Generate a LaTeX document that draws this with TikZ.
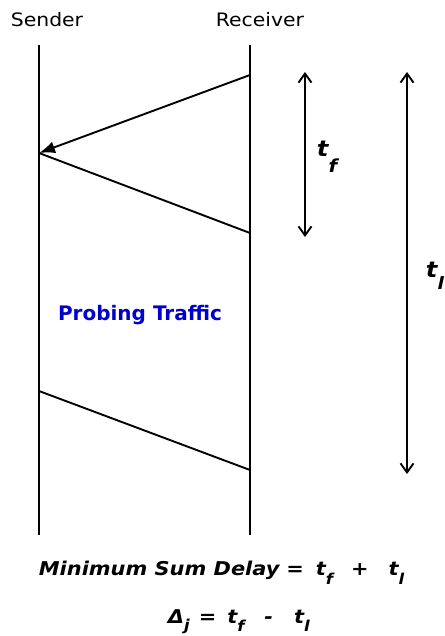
\documentclass[tikz,border=0pt]{standalone}
\usepackage{fontspec}
\setmainfont{DejaVu Sans}
\newfontfamily\widefont[FakeStretch=1.1]{DejaVu Sans}
\usetikzlibrary{arrows.meta}
% t con subindice bajo
\newcommand{\tsb}[4]{#1\raisebox{-#4pt}{\fontsize{#3}{#3}\selectfont #2}}
\begin{document}
\begin{tikzpicture}[x=1pt,y=-1pt,line width=1.9pt,
    barb/.style={{Straight Barb[length=9pt,width=13pt]}-{Straight Barb[length=9pt,width=13pt]}},
    lbl/.style={font=\widefont\fontsize{18.5}{20}\selectfont,inner sep=0pt},
    eq/.style={font=\widefont\bfseries\itshape\fontsize{19}{22}\selectfont,inner sep=0pt}]
    \useasboundingbox (0,0) rectangle (444,636);
    % Nodos de las lineas de vida
    \node[lbl,anchor=base] (snd) at (47,27) {Sender};
    \node[lbl,anchor=base] (rcv) at (260,27) {Receiver};
    \coordinate (s0) at (39,45);  \coordinate (s1) at (39,535);
    \coordinate (r0) at (250,45); \coordinate (r1) at (250,535);
    \draw (s0) -- (s1);
    \draw (r0) -- (r1);
    % Mensajes
    \coordinate (ra) at (250,75);  \coordinate (sa) at (39,153);
    \coordinate (rb) at (250,233); \coordinate (sb) at (39,391);
    \coordinate (rc) at (250,470);
    \draw[-{Latex[length=16pt,width=12pt]}] (ra) -- (sa);
    \draw (sa) -- (rb);
    \draw (sb) -- (rc);
    \node[font=\fontsize{20}{22}\selectfont\bfseries,text=blue!80!black,anchor=base,inner sep=0pt] (probe) at (140,320) {Probing Traffic};
    % Intervalos
    \coordinate (f0) at (305,72); \coordinate (f1) at (305,237);
    \coordinate (l0) at (407,72); \coordinate (l1) at (407,474);
    \draw[barb] (f0) -- (f1);
    \draw[barb] (l0) -- (l1);
    \node[eq,anchor=base west] (tf) at (316,157) {\fontsize{22}{22}\selectfont\tsb{t}{f}{18}{16}};
    \node[eq,anchor=base west] (tl) at (425,277) {\fontsize{22}{22}\selectfont\tsb{t}{l}{17}{12}};
    % Ecuaciones
    \node[eq,anchor=base west] (sum) at (38,575)
        {Minimum Sum Delay\kern7pt=\kern12pt\tsb{t}{f}{15}{9}\kern18pt+\kern20pt\tsb{t}{l}{15}{9}};
    \node[eq,anchor=base west] (dlt) at (167,623)
        {\tsb{Δ}{j}{15}{7}\kern9pt=\kern11pt\tsb{t}{f}{15}{8}\kern20pt-\kern21pt\tsb{t}{l}{15}{8}};
\end{tikzpicture}
\end{document}
